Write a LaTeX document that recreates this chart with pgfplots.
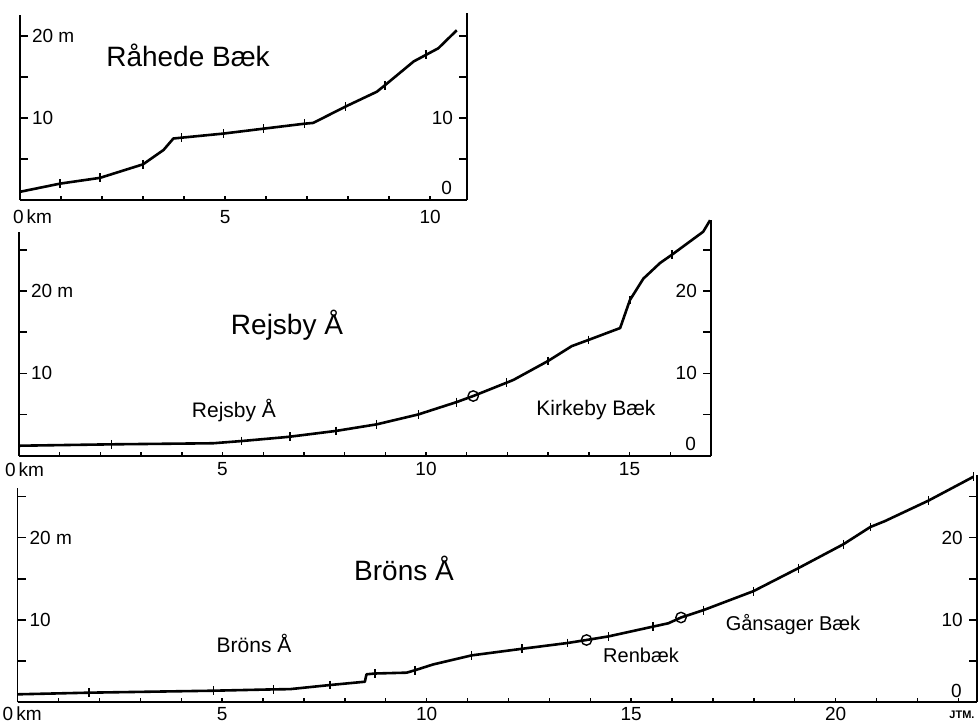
\documentclass[border=0pt]{standalone}
\usepackage{fontspec}
\setmainfont{Liberation Sans}
\usepackage{pgfplots}
\pgfplotsset{compat=1.18}
\pgfplotsset{
  base/.style={scale only axis, clip=false, anchor=south west, ymin=0, xmin=0,
    every tick/.style={black, line width=0.7pt},
    tick label style={font=\fontsize{9.5}{11}\selectfont}},
  noarrows/.style={axis line style={-, line width=0.9pt, black},
    every outer x axis line/.append style={-},
    every outer y axis line/.append style={-},
    every inner x axis line/.append style={-},
    every inner y axis line/.append style={-}},
  xax/.style={base, axis x line=bottom, axis y line=none, noarrows, ytick=\empty,
    tick align=inside, major tick length=2pt, minor tick length=2pt},
  lax/.style={base, axis y line=left, axis x line=none, noarrows, xtick=\empty, xmax=1,
    tick align=inside, major tick length=4pt,
    yticklabel style={anchor=west, xshift=2.5pt}},
  rax/.style={base, axis y line=right, axis x line=none, noarrows, xtick=\empty, xmax=1,
    tick align=inside, major tick length=4pt,
    yticklabel style={anchor=east, xshift=-3.5pt}},
  curve/.style={black, line width=1.3pt, line join=round, no marks},
  kmtick/.style={only marks, mark=|, mark size=2.2pt, mark options={line width=0.7pt, black}},
  circ/.style={only marks, mark=o, mark size=2.6pt, mark options={fill=white, line width=0.7pt, black}},
}
\newcommand{\zeroright}{\node[anchor=south east, font=\fontsize{9.5}{11}\selectfont, xshift=-4pt, yshift=-1pt] at (axis cs:1,0) {0};}
\begin{document}
\begin{tikzpicture}
\useasboundingbox (0,0) rectangle (489pt,362pt);
% ---------- Panel 1: Rahede Baek ----------
\begin{axis}[lax, at={(10pt,262pt)}, width=223.5pt, ymax=22.5, height=92.25pt,
  ytick={5,10,15,20}, yticklabels={,10,,20 m}]
\end{axis}
\begin{axis}[rax, at={(10pt,262pt)}, width=223.5pt, ymax=22.8, height=93.48pt,
  ytick={5,10,15,20}, yticklabels={,10,,}]
\zeroright
\end{axis}
\begin{axis}[xax, at={(10pt,262pt)}, width=223.5pt, xmax=10.9, ymax=22.8, height=93.48pt,
  xtick={0,5,10}, minor xtick={1,2,3,4,6,7,8,9,10},
  xticklabels={{\makebox[0pt][l]{\hspace{-3.5pt}0\,km}},5,10},
  xticklabel style={yshift=-1.5pt}]
\addplot[curve] coordinates {(0,1.0) (0.98,2.0) (1.95,2.7) (3.0,4.35) (3.5,6.1) (3.74,7.5) (3.94,7.6) (4.96,8.1) (5.94,8.7) (6.93,9.3) (7.15,9.4) (7.94,11.4) (8.7,13.2) (8.9,14.0) (9.6,16.9) (9.9,17.7) (10.2,18.5) (10.65,20.7)};
\addplot[kmtick] coordinates {(0.98,2.0) (1.95,2.7) (3.0,4.35) (3.94,7.6) (4.96,8.1) (5.94,8.7) (6.93,9.3) (7.94,11.4) (8.9,14.0) (9.9,17.7)};
\end{axis}
% ---------- Panel 2: Rejsby A ----------
\begin{axis}[lax, at={(9.5pt,134.2pt)}, width=345.95pt, ymax=27.2, height=111.93pt,
  ytick={5,10,15,20,25}, yticklabels={,10,,20 m,}]
\end{axis}
\begin{axis}[rax, at={(9.5pt,134.2pt)}, width=345.95pt, ymax=28.6, height=117.69pt,
  ytick={5,10,15,20,25}, yticklabels={,10,,20,}]
\zeroright
\end{axis}
\begin{axis}[xax, at={(9.5pt,134.2pt)}, width=345.95pt, xmax=17, ymax=28.6, height=117.69pt,
  xtick={0,5,10,15}, minor xtick={1,2,3,4,6,7,8,9,11,12,13,14,16,17},
  xticklabels={{\makebox[0pt][l]{\hspace{-7pt}0\,km}},5,10,15},
  xticklabel style={yshift=0pt}]
\addplot[curve] coordinates {(0,1.2) (2.28,1.37) (4.77,1.5) (5.47,1.77) (6.45,2.2) (6.66,2.3) (7.79,3.0) (8.79,3.8) (9.81,5.0) (10.75,6.5) (11.16,7.24) (11.98,8.86) (12.15,9.2) (13.0,11.5) (13.58,13.3) (13.99,14.05) (14.77,15.5) (15.01,18.9) (15.34,21.5) (15.75,23.4) (16.04,24.4) (16.81,27.2) (16.98,28.6)};
\addplot[kmtick] coordinates {(2.28,1.37) (5.47,1.77) (6.66,2.3) (7.79,3.0) (8.79,3.8) (9.81,5.0) (10.75,6.5) (11.98,8.86) (13.0,11.5) (13.99,14.05) (15.01,18.9) (16.04,24.4)};
\addplot[circ] coordinates {(11.16,7.24)};
\end{axis}
% ---------- Panel 3: Brons A ----------
\begin{axis}[lax, at={(8.8pt,10.85pt)}, width=479.55pt, ymax=26, height=107pt,
  ytick={5,10,15,20,25}, yticklabels={,10,,20 m,}]
\end{axis}
\begin{axis}[rax, at={(8.8pt,10.85pt)}, width=479.55pt, ymax=27.6, height=113.6pt,
  ytick={5,10,15,20,25}, yticklabels={,10,,20,}]
\zeroright
\end{axis}
\begin{axis}[xax, at={(8.8pt,10.85pt)}, width=479.55pt, xmax=23.45, ymax=27.6, height=113.6pt,
  xtick={0,5,10,15,20}, minor xtick={1,2,3,4,6,7,8,9,11,12,13,14,16,17,18,19,21,22,23},
  xticklabels={{\makebox[0pt][l]{\hspace{-7.5pt}0\,km}},5,10,15,20},
  xticklabel style={yshift=1.1pt}]
\addplot[curve] coordinates {(0,0.97) (1.75,1.17) (4.79,1.41) (6.25,1.57) (6.66,1.6) (7.64,2.1) (8.49,2.5) (8.53,3.4) (8.74,3.5) (9.51,3.6) (9.72,3.9) (10.16,4.6) (11.1,5.7) (12.33,6.5) (13.44,7.2) (13.91,7.57) (14.44,8.0) (15.54,9.2) (15.91,9.6) (16.22,10.3) (16.77,11.2) (17.99,13.5) (19.09,16.3) (20.19,19.2) (20.85,21.3) (21.2,22.0) (22.27,24.5) (23.37,27.4)};
\addplot[kmtick] coordinates {(1.75,1.17) (4.79,1.41) (6.25,1.57) (7.64,2.1) (8.74,3.5) (9.72,3.9) (11.1,5.7) (12.33,6.5) (13.44,7.2) (14.44,8.0) (15.54,9.2) (16.77,11.2) (17.99,13.5) (19.09,16.3) (20.19,19.2) (20.85,21.3) (22.27,24.5) (23.37,27.4)};
\addplot[circ] coordinates {(13.91,7.57) (16.22,10.3)};
\end{axis}
% ---------- texts ----------
\begin{scope}[yshift=362pt, x=0.5pt, y=-0.5pt]
\node[anchor=base, font=\fontsize{14}{16}\selectfont] at (188,67) {Råhede Bæk};
\node[anchor=base, font=\fontsize{14}{16}\selectfont] at (287,334) {Rejsby Å};
\node[anchor=base, font=\fontsize{10.5}{12}\selectfont] at (234,417) {Rejsby Å};
\node[anchor=base, font=\fontsize{10.5}{12}\selectfont] at (596,415) {Kirkeby Bæk};
\node[anchor=base, font=\fontsize{14}{16}\selectfont] at (404,580) {Bröns Å};
\node[anchor=base, font=\fontsize{10.5}{12}\selectfont] at (254,652) {Bröns Å};
\node[anchor=base, font=\fontsize{10}{12}\selectfont] at (641,662) {Renbæk};
\node[anchor=base, font=\fontsize{10}{12}\selectfont] at (793,630) {Gånsager Bæk};
\node[anchor=base, font=\fontsize{5.5}{6}\selectfont\bfseries] at (962,718) {JTM.};
\end{scope}
\end{tikzpicture}
\end{document}
